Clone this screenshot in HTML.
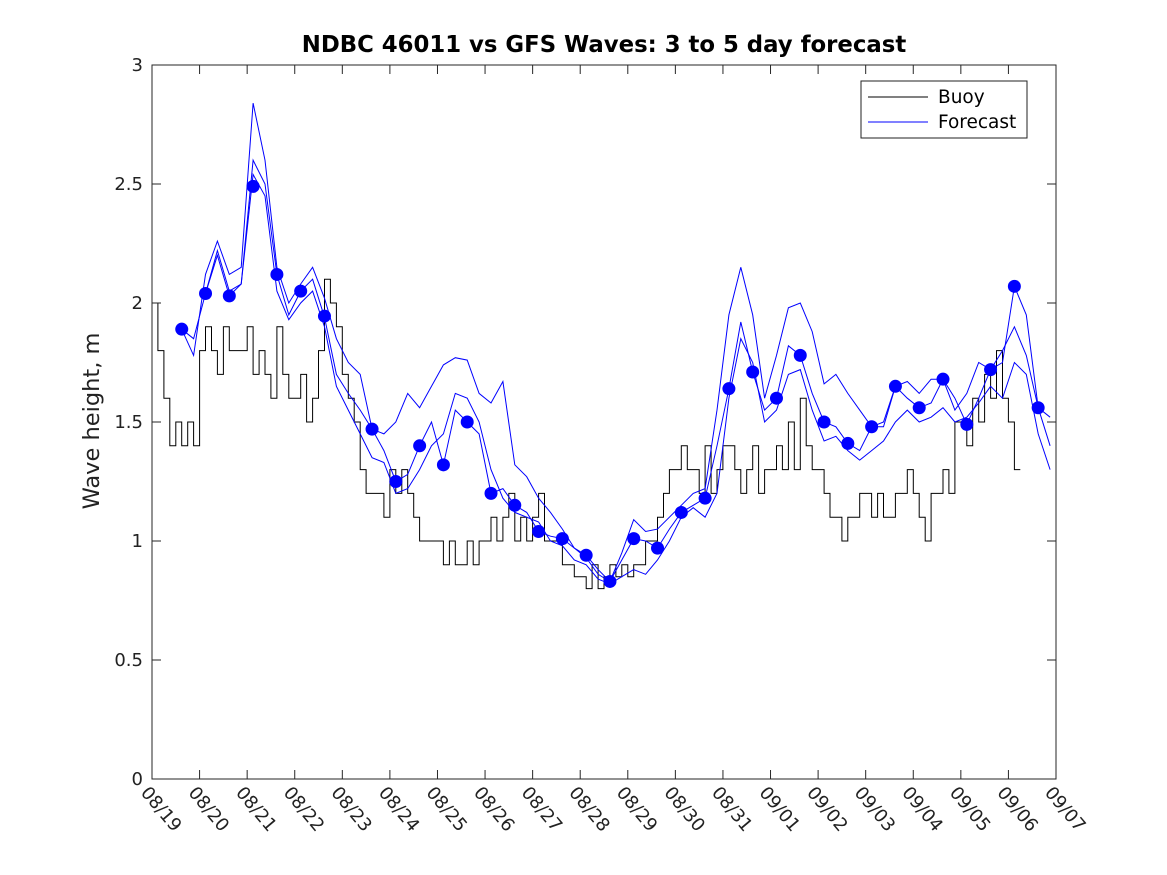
<!DOCTYPE html>
<html><head><meta charset="utf-8"><style>
body{margin:0;background:#fff;}
svg{display:block;font-family:"DejaVu Sans","Liberation Sans",sans-serif;}
</style></head><body>
<svg id="chart" width="1167" height="875">
<rect x="0" y="0" width="1167" height="875" fill="#fff"/>
<text x="604" y="52" text-anchor="middle" font-size="22.8" font-weight="bold" fill="#000">NDBC 46011 vs GFS Waves: 3 to 5 day forecast</text>
<text transform="translate(99,421) rotate(-90)" text-anchor="middle" font-size="22.5" fill="#222">Wave height, m</text>
<g id="plot"></g>
<g id="axes"></g>
<g>
<rect x="861" y="81" width="166" height="57" fill="#fff" stroke="#222" stroke-width="1"/>
<line x1="868" y1="97" x2="928" y2="97" stroke="#000" stroke-width="1"/>
<text x="938" y="103" font-size="18.5" fill="#000">Buoy</text>
<line x1="868" y1="122" x2="928" y2="122" stroke="#0000ff" stroke-width="1"/>
<text x="938" y="128" font-size="18.5" fill="#000">Forecast</text>
</g>
</svg>
<script>
const xTickLabels=["08/19","08/20","08/21","08/22","08/23","08/24","08/25","08/26","08/27","08/28","08/29","08/30","08/31","09/01","09/02","09/03","09/04","09/05","09/06","09/07"];
const yTickValues=[0,0.5,1,1.5,2,2.5,3];
const yTickLabels=["0","0.5","1","1.5","2","2.5","3"];
const dotStart=0.625, dotStep=0.5;
const dotValues=[1.89,2.04,2.03,2.49,2.12,2.05,1.945,null,1.47,1.25,1.40,1.32,1.50,1.20,1.15,1.04,1.01,0.94,0.83,1.01,0.97,1.12,1.18,1.64,1.71,1.60,1.78,1.50,1.41,1.48,1.65,1.56,1.68,1.49,1.72,2.07,1.56];
const fcStart=0.625, fcStep=0.25;
const forecast1=[1.89,1.78,2.12,2.26,2.12,2.15,2.84,2.60,2.15,2.00,2.08,2.15,2.02,1.85,1.75,1.70,1.47,1.45,1.50,1.62,1.56,1.65,1.74,1.77,1.76,1.62,1.58,1.67,1.32,1.27,1.18,1.12,1.05,0.97,0.93,0.86,0.83,0.95,1.09,1.04,1.05,1.10,1.15,1.20,1.22,1.55,1.95,2.15,1.95,1.60,1.78,1.98,2.00,1.88,1.66,1.70,1.62,1.55,1.48,1.50,1.65,1.67,1.62,1.68,1.68,1.55,1.62,1.75,1.72,1.75,2.07,1.95,1.56,1.52];
const forecast2=[1.89,1.85,2.04,2.22,2.05,2.08,2.60,2.50,2.12,1.95,2.05,2.10,1.94,1.70,1.62,1.55,1.47,1.38,1.25,1.28,1.40,1.50,1.32,1.55,1.50,1.45,1.20,1.22,1.15,1.12,1.04,1.02,1.01,0.97,0.94,0.88,0.83,0.92,1.01,1.00,0.97,1.05,1.12,1.15,1.18,1.40,1.64,1.92,1.71,1.55,1.60,1.82,1.78,1.62,1.50,1.48,1.41,1.38,1.48,1.48,1.65,1.60,1.56,1.58,1.68,1.60,1.49,1.60,1.72,1.80,1.90,1.78,1.56,1.40];
const forecast3=[null,null,2.04,2.20,2.03,2.08,2.54,2.45,2.05,1.93,2.00,2.05,1.90,1.65,1.55,1.45,1.35,1.33,1.20,1.22,1.30,1.40,1.45,1.62,1.60,1.50,1.30,1.18,1.12,1.10,1.08,1.00,0.98,0.92,0.90,0.84,0.82,0.85,0.88,0.86,0.92,1.00,1.10,1.14,1.10,1.20,1.60,1.85,1.75,1.50,1.55,1.70,1.72,1.55,1.42,1.44,1.38,1.34,1.38,1.42,1.50,1.55,1.50,1.52,1.56,1.50,1.52,1.58,1.65,1.60,1.75,1.70,1.45,1.30];
const buoyStart=0, buoyStep=0.125;
const buoyValues=[2.0,1.8,1.6,1.4,1.5,1.4,1.5,1.4,
1.8,1.9,1.8,1.7,1.9,1.8,1.8,1.8,
1.9,1.7,1.8,1.7,1.6,1.9,1.7,1.6,
1.6,1.7,1.5,1.6,1.8,2.1,2.0,1.9,
1.7,1.6,1.5,1.3,1.2,1.2,1.2,1.1,
1.3,1.2,1.3,1.2,1.1,1.0,1.0,1.0,
1.0,0.9,1.0,0.9,0.9,1.0,0.9,1.0,
1.0,1.1,1.0,1.1,1.2,1.0,1.1,1.0,
1.1,1.2,1.0,1.0,1.0,0.9,0.9,0.85,
0.85,0.8,0.9,0.8,0.85,0.9,0.85,0.9,
0.85,0.9,0.9,1.0,1.0,1.1,1.2,1.3,
1.3,1.4,1.3,1.3,1.2,1.4,1.2,1.3,
1.4,1.4,1.3,1.2,1.3,1.4,1.2,1.3,
1.3,1.4,1.3,1.5,1.3,1.6,1.4,1.3,
1.3,1.2,1.1,1.1,1.0,1.1,1.1,1.2,
1.2,1.1,1.2,1.1,1.1,1.2,1.2,1.3,
1.2,1.1,1.0,1.2,1.2,1.3,1.2,1.5,
1.5,1.4,1.6,1.5,1.7,1.6,1.8,1.6,
1.5,1.3];

const X0=152,X1=1056,Y0=779,Y1=65,DAYS=19,YMAX=3;
function xs(t){return X0+(X1-X0)*t/DAYS;}
function ys(v){return Y0-(Y0-Y1)*v/YMAX;}
const NS="http://www.w3.org/2000/svg";
const plot=document.getElementById('plot'), axes=document.getElementById('axes');
function mk(tag,attrs,parent){const e=document.createElementNS(NS,tag);for(const k in attrs)e.setAttribute(k,attrs[k]);parent.appendChild(e);return e;}

let d="";
buoyValues.forEach((v,i)=>{const x0=xs(buoyStart+i*buoyStep),x1=xs(buoyStart+(i+1)*buoyStep),y=ys(v);d+=(i===0?"M":"L")+x0.toFixed(1)+","+y.toFixed(1)+"L"+x1.toFixed(1)+","+y.toFixed(1);});
const bl=mk('path',{d:d,fill:"none",stroke:"#000","stroke-width":1},plot);



[forecast1,forecast2,forecast3].forEach((arr,j)=>{
  let p="",pen=false;
  arr.forEach((v,i)=>{if(v===null){pen=false;return;}const x=xs(fcStart+i*fcStep),y=ys(v);p+=(pen?"L":"M")+x.toFixed(1)+","+y.toFixed(1);pen=true;});
  const l=mk('path',{d:p,fill:"none",stroke:"#0000ff","stroke-width":1},plot);
  
  
});

dotValues.forEach((v,i)=>{if(v===null)return;
  const c=mk('circle',{cx:xs(dotStart+i*dotStep),cy:ys(v),r:6.5,fill:"#0000ff"},plot);
  
  
});

const frame=mk('rect',{x:X0,y:Y1,width:X1-X0,height:Y0-Y1,fill:"none",stroke:"#262626","stroke-width":1},axes);


xTickLabels.forEach((lab,i)=>{const x=xs(i);
  mk('line',{x1:x,y1:Y0,x2:x,y2:Y0-9,stroke:"#262626"},axes);
  mk('line',{x1:x,y1:Y1,x2:x,y2:Y1+9,stroke:"#262626"},axes);
  const t=mk('text',{transform:`translate(${x-12},${Y0+14}) rotate(50)`,"font-size":18,fill:"#222"},axes);
  t.textContent=lab;
  
  
});
yTickValues.forEach((v,i)=>{const y=ys(v);
  mk('line',{x1:X0,y1:y,x2:X0+9,y2:y,stroke:"#262626"},axes);
  mk('line',{x1:X1,y1:y,x2:X1-9,y2:y,stroke:"#262626"},axes);
  const t=mk('text',{x:X0-9,y:y+6,"text-anchor":"end","font-size":18,fill:"#222"},axes);
  t.textContent=yTickLabels[i];
  
  
});
</script>
</body></html>
